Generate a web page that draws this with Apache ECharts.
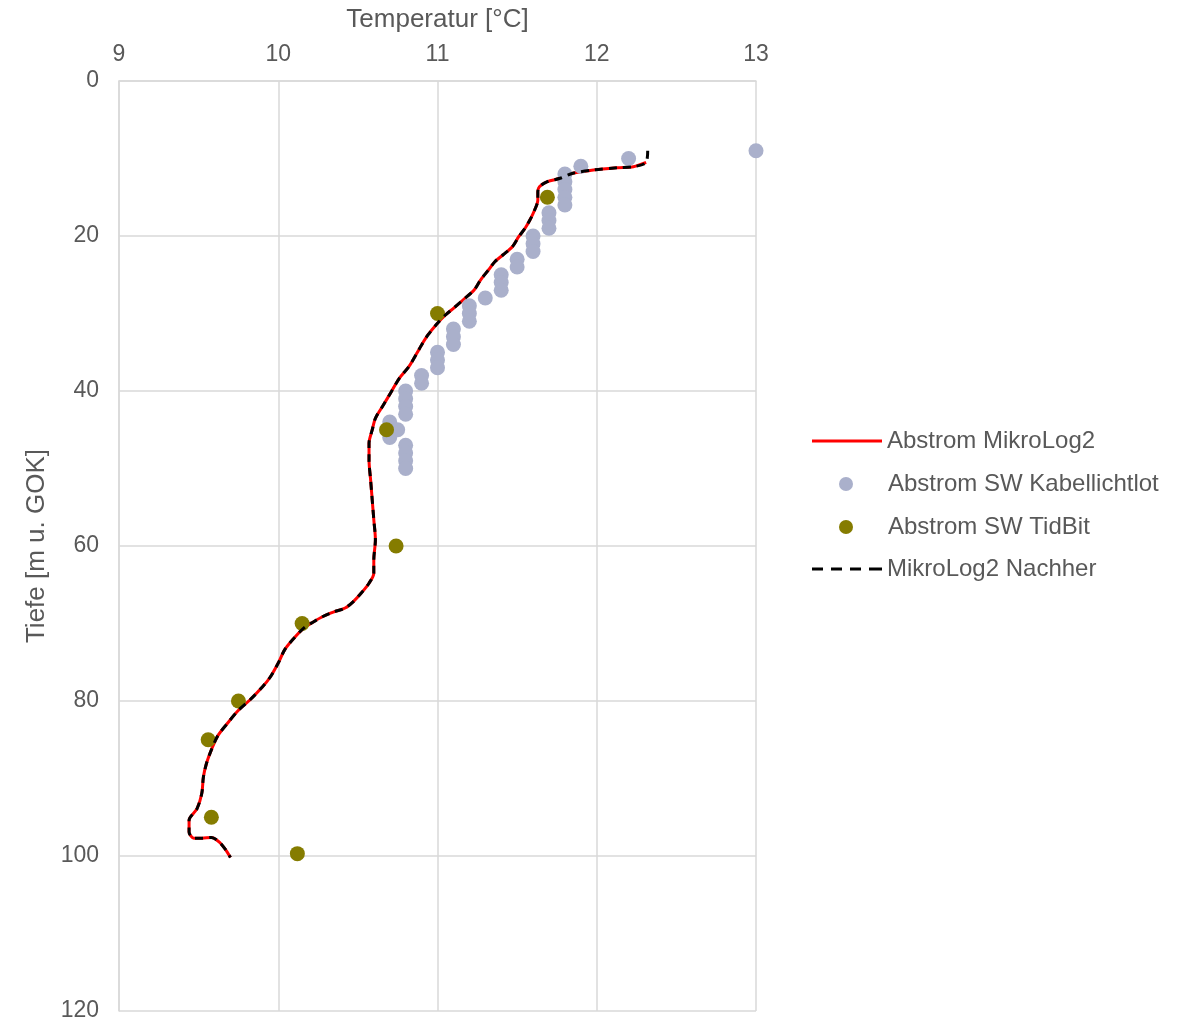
<!DOCTYPE html>
<html>
<head>
<meta charset="utf-8">
<script src="https://cdn.jsdelivr.net/npm/echarts@6/dist/echarts.min.js"></script>
<style>html,body{margin:0;padding:0;background:#fff;}#c{width:1184px;height:1017px;}</style>
</head>
<body>
<div id="c"></div>
<script>
// Temperature ticks (x axis, top) and depth ticks (y axis, inverted)
const tempTicks = [9, 10, 11, 12, 13];
const depthTicks = [0, 20, 40, 60, 80, 100, 120];

// Abstrom MikroLog2 (red solid)
const mikroTemp = [12.31,12.23,12.13,11.98,11.85,11.77,11.69,11.64,11.63,11.63,11.61,11.58,11.55,11.51,11.47,11.41,11.36,11.32,11.27,11.23,11.16,11.10,11.05,11.00,10.94,10.90,10.87,10.82,10.76,10.71,10.66,10.61,10.59,10.57,10.57,10.58,10.60,10.61,10.60,10.60,10.57,10.52,10.47,10.42,10.35,10.28,10.22,10.16,10.09,10.04,10.00,9.95,9.90,9.82,9.75,9.68,9.62,9.58,9.55,9.53,9.52,9.49,9.44,9.44,9.47,9.52,9.58,9.63,9.67,9.70];
const mikroDepth = [10.5,11.06,11.19,11.48,11.91,12.55,12.99,13.64,14.28,15.35,16.65,17.94,19.0,20.09,21.38,22.45,23.32,24.39,25.68,26.97,28.26,29.33,30.19,31.26,32.77,34.06,35.14,36.86,38.36,40.09,41.81,43.52,45.03,46.75,48.9,51.48,56.6,59.2,61.8,63.5,64.8,66.1,67.2,68.0,68.5,69.1,69.8,70.6,72.1,73.4,75.1,76.9,78.2,79.9,81.2,82.9,84.5,86.3,88.0,89.8,91.9,93.9,95.4,96.9,97.7,97.7,97.6,98.2,99.2,100.2];

// MikroLog2 Nachher (black dashed)
const nachherTemp = [12.32,12.31,12.23,12.13,11.98,11.85,11.77,11.69,11.64,11.63,11.63,11.61,11.58,11.55,11.51,11.47,11.41,11.36,11.32,11.27,11.23,11.16,11.10,11.05,11.00,10.94,10.90,10.87,10.82,10.76,10.71,10.66,10.61,10.59,10.57,10.57,10.58,10.60,10.61,10.60,10.60,10.57,10.52,10.47,10.42,10.35,10.28,10.22,10.16,10.09,10.04,10.00,9.95,9.90,9.82,9.75,9.68,9.62,9.58,9.55,9.53,9.52,9.49,9.44,9.44,9.47,9.52,9.58,9.63,9.67,9.70];
const nachherDepth = [9.0,10.5,11.06,11.19,11.48,11.91,12.55,12.99,13.64,14.28,15.35,16.65,17.94,19.0,20.09,21.38,22.45,23.32,24.39,25.68,26.97,28.26,29.33,30.19,31.26,32.77,34.06,35.14,36.86,38.36,40.09,41.81,43.52,45.03,46.75,48.9,51.48,56.6,59.2,61.8,63.5,64.8,66.1,67.2,68.0,68.5,69.1,69.8,70.6,72.1,73.4,75.1,76.9,78.2,79.9,81.2,82.9,84.5,86.3,88.0,89.8,91.9,93.9,95.4,96.9,97.7,97.7,97.6,98.2,99.2,100.2];

// Abstrom SW Kabellichtlot (grey dots)
const kabelTemp = [13.0,12.2,11.9,11.8,11.8,11.8,11.8,11.8,11.7,11.7,11.7,11.6,11.6,11.6,11.5,11.5,11.4,11.4,11.4,11.3,11.2,11.2,11.2,11.1,11.1,11.1,11.0,11.0,11.0,10.9,10.9,10.8,10.8,10.8,10.8,10.7,10.75,10.7,10.8,10.8,10.8,10.8];
const kabelDepth = [9,10,11,12,13,14,15,16,17,18,19,20,21,22,23,24,25,26,27,28,29,30,31,32,33,34,35,36,37,38,39,40,41,42,43,44,45,46,47,48,49,50];

// Abstrom SW TidBit (olive dots)
const tidTemp = [11.69,11.0,10.68,10.74,10.15,9.75,9.56,9.58,10.12];
const tidDepth = [15,30,45,60,70,80,85,95,99.7];

const pairs = (a, b) => a.map((v, i) => [v, b[i]]);

const txt = '#595959';
const font = 'Liberation Sans, Arial, sans-serif';
const chart = echarts.init(document.getElementById('c'), null, {renderer: 'canvas'});

const legendText = {color: txt, fontSize: 24, fontFamily: font};
const dashIcon = 'path://M0,0h11v3h-11z M19,0h11v3h-11z M38,0h11v3h-11z M57,0h13v3h-13z';

chart.setOption({
  backgroundColor: '#fff',
  animation: false,
  grid: {left: 119, right: 428, top: 81, bottom: 6, containLabel: false, outerBoundsMode: 'none'},
  xAxis: {
    type: 'value', position: 'top', min: 9, max: 13, interval: 1,
    name: 'Temperatur [°C]', nameLocation: 'middle', nameGap: 48,
    nameTextStyle: {color: txt, fontSize: 26, fontFamily: font},
    axisLine: {show: true, lineStyle: {color: '#d9d9d9', width: 1.5}},
    axisTick: {show: false},
    axisLabel: {color: txt, fontSize: 23, fontFamily: font, margin: 15,
      formatter: v => tempTicks.includes(v) ? String(v) : ''},
    splitLine: {show: true, lineStyle: {color: '#d9d9d9', width: 1.5}}
  },
  yAxis: {
    type: 'value', inverse: true, min: 0, max: 120, interval: 20,
    name: 'Tiefe [m u. GOK]', nameLocation: 'middle', nameGap: 69,
    nameTextStyle: {color: txt, fontSize: 26, fontFamily: font},
    axisLine: {show: true, lineStyle: {color: '#d9d9d9', width: 1.5}},
    axisTick: {show: false},
    axisLabel: {color: txt, fontSize: 23, fontFamily: font, margin: 20,
      formatter: v => depthTicks.includes(v) ? String(v) : ''},
    splitLine: {show: true, lineStyle: {color: '#d9d9d9', width: 1.5}}
  },
  legend: [
    {left: 812, top: 429, padding: 0, itemWidth: 70, itemHeight: 3, selectedMode: false,
     textStyle: legendText,
     data: [{name: 'Abstrom MikroLog2', icon: 'rect', itemStyle: {color: '#ff0000'}}]},
    {left: 839, top: 472, padding: 0, itemWidth: 14, itemHeight: 14, selectedMode: false,
     textStyle: Object.assign({padding: [0, 0, 0, 30]}, legendText),
     data: [{name: 'Abstrom SW Kabellichtlot', icon: 'circle'}]},
    {left: 839, top: 515, padding: 0, itemWidth: 14, itemHeight: 14, selectedMode: false,
     textStyle: Object.assign({padding: [0, 0, 0, 30]}, legendText),
     data: [{name: 'Abstrom SW TidBit', icon: 'circle'}]},
    {left: 812, top: 557, padding: 0, itemWidth: 70, itemHeight: 3, selectedMode: false,
     textStyle: legendText,
     data: [{name: 'MikroLog2 Nachher', icon: dashIcon, itemStyle: {color: '#000000'}}]}
  ],
  series: [
    {
      name: 'Abstrom MikroLog2', type: 'line', data: pairs(mikroTemp, mikroDepth),
      showSymbol: false, symbol: 'none', smooth: 0.3,
      lineStyle: {color: '#ff0000', width: 3}, itemStyle: {color: '#ff0000'}, z: 2
    },
    {
      name: 'Abstrom SW Kabellichtlot', type: 'scatter', data: pairs(kabelTemp, kabelDepth),
      symbol: 'circle', symbolSize: 15, itemStyle: {color: '#aab0cb', opacity: 1}, z: 3
    },
    {
      name: 'Abstrom SW TidBit', type: 'scatter', data: pairs(tidTemp, tidDepth),
      symbol: 'circle', symbolSize: 15, itemStyle: {color: '#857c00', opacity: 1}, z: 4
    },
    {
      name: 'MikroLog2 Nachher', type: 'line', data: pairs(nachherTemp, nachherDepth),
      showSymbol: false, symbol: 'none', smooth: 0.3,
      lineStyle: {color: '#000000', width: 3, type: [8, 6]}, itemStyle: {color: '#000000'}, z: 5
    }
  ]
});
</script>
</body>
</html>
